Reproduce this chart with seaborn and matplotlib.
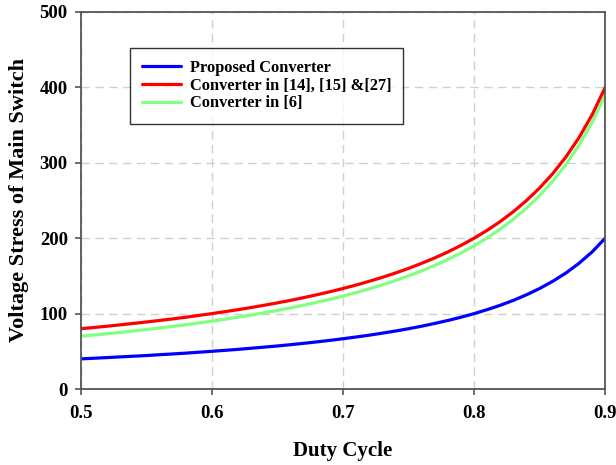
import numpy as np
import pandas as pd
import seaborn as sns
import matplotlib.pyplot as plt

# duty cycle sampled every 0.01
duty = [0.50, 0.51, 0.52, 0.53, 0.54, 0.55, 0.56, 0.57, 0.58, 0.59,
        0.60, 0.61, 0.62, 0.63, 0.64, 0.65, 0.66, 0.67, 0.68, 0.69,
        0.70, 0.71, 0.72, 0.73, 0.74, 0.75, 0.76, 0.77, 0.78, 0.79,
        0.80, 0.81, 0.82, 0.83, 0.84, 0.85, 0.86, 0.87, 0.88, 0.89, 0.90]

proposed = [40.0, 40.8, 41.7, 42.6, 43.5, 44.4, 45.5, 46.5, 47.6, 48.8,
            50.0, 51.3, 52.6, 54.1, 55.6, 57.1, 58.8, 60.6, 62.5, 64.5,
            66.7, 69.0, 71.4, 74.1, 76.9, 80.0, 83.3, 87.0, 90.9, 95.2,
            100.0, 105.3, 111.1, 117.6, 125.0, 133.3, 142.9, 153.8, 166.7, 181.8, 200.0]

conv_14_15_27 = [80.0, 81.6, 83.3, 85.1, 87.0, 88.9, 90.9, 93.0, 95.2, 97.6,
                 100.0, 102.6, 105.3, 108.1, 111.1, 114.3, 117.6, 121.2, 125.0, 129.0,
                 133.3, 137.9, 142.9, 148.1, 153.8, 160.0, 166.7, 173.9, 181.8, 190.5,
                 200.0, 210.5, 222.2, 235.3, 250.0, 266.7, 285.7, 307.7, 333.3, 363.6, 400.0]

conv_6 = [70.0, 71.6, 73.3, 75.1, 77.0, 78.9, 80.9, 83.0, 85.2, 87.6,
          90.0, 92.6, 95.3, 98.1, 101.1, 104.3, 107.6, 111.2, 115.0, 119.0,
          123.3, 127.9, 132.9, 138.1, 143.8, 150.0, 156.7, 163.9, 171.8, 180.5,
          190.0, 200.5, 212.2, 225.3, 240.0, 256.7, 275.7, 297.7, 323.3, 353.6, 390.0]

labels = ['Proposed Converter', 'Converter in [14], [15] &[27]', 'Converter in [6]']
colors = ['#0000ff', '#ff0000', '#80ff80']

sns.set_style('white')
plt.rcParams['font.family'] = ['Liberation Serif', 'DejaVu Serif']
plt.rcParams['font.weight'] = 'bold'
plt.rcParams['text.color'] = 'black'
plt.rcParams['xtick.color'] = 'black'
plt.rcParams['ytick.color'] = 'black'

fig = plt.figure(figsize=(6.16, 4.65), dpi=100)
ax = fig.add_axes([0.1315, 0.1634, 0.851, 0.811])

sns.lineplot(x=duty, y=proposed, color=colors[0], lw=2.3, ax=ax)
sns.lineplot(x=duty, y=conv_6, color=colors[2], lw=2.3, ax=ax)
sns.lineplot(x=duty, y=conv_14_15_27, color=colors[1], lw=2.3, ax=ax)
blue_line, green_line, red_line = ax.lines[0], ax.lines[1], ax.lines[2]

ax.set_xlim(0.5, 0.9)
ax.set_ylim(0, 500)
ax.set_xticks([0.5, 0.6, 0.7, 0.8, 0.9])
ax.set_yticks([0, 100, 200, 300, 400, 500])
ax.set_xticklabels(['0.5', '0.6', '0.7', '0.8', '0.9'])

ax.grid(True, color='#d0d0d0', linestyle=(0, (6, 4)), lw=1)
for s in ax.spines.values():
    s.set_color('#555555')
    s.set_linewidth(1.3)

ax.tick_params(axis='both', direction='out', length=4.5, width=1.2, color='#555555',
               labelsize=13.5, labelcolor='black', bottom=True, left=True)
ax.tick_params(axis='x', pad=7)
ax.tick_params(axis='y', pad=5)

ax.set_xlabel('Duty Cycle', fontsize=15, fontweight='bold', labelpad=14, color='black')
ax.set_ylabel('Voltage Stress of Main Switch', fontsize=16, fontweight='bold', labelpad=8, color='black')

leg = ax.legend([blue_line, red_line, green_line], labels,
                loc='upper left', bbox_to_anchor=(0.093, 0.905), borderaxespad=0,
                frameon=True, fancybox=False, edgecolor='black', fontsize=11.8,
                handlelength=2.4, handletextpad=0.5, labelspacing=0.1, borderpad=0.75)
leg.get_frame().set_linewidth(1.0)
for t in leg.get_texts():
    t.set_fontweight('bold')

fig.savefig('out.png', dpi=100)
